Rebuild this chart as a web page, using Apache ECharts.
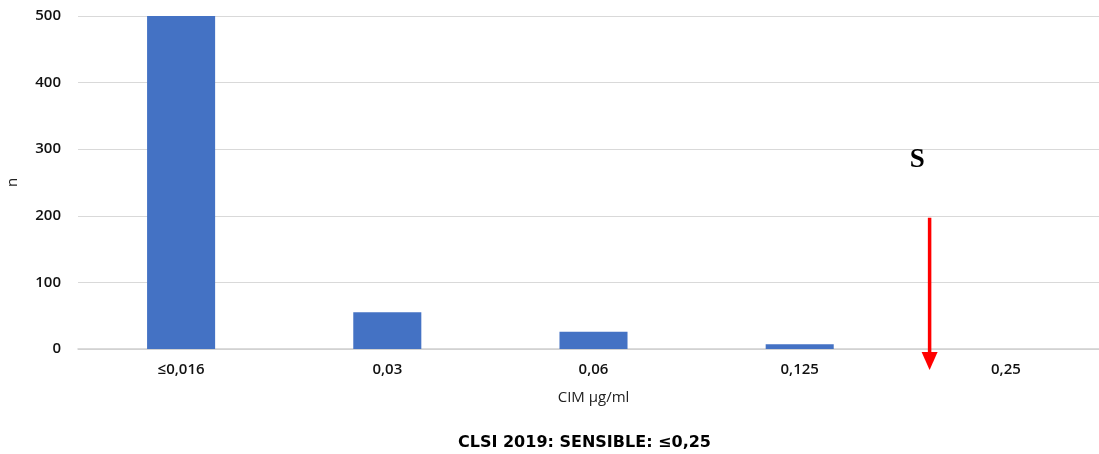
<!DOCTYPE html>
<html>
<head>
<meta charset="utf-8">
<script src="https://cdn.jsdelivr.net/npm/echarts@6/dist/echarts.min.js"></script>
<style>html,body{margin:0;padding:0;background:#fff}#c{width:1099px;height:454px}</style>
</head>
<body>
<div id="c"></div>
<script>
var categories = ['≤0,016', '0,03', '0,06', '0,125', '0,25'];
var counts = [500, 55, 26, 7, 0];
var yTicks = [0, 100, 200, 300, 400, 500];
var arrowX = 3.63;          // position between 0,125 and 0,25 (category units)
var arrowFrom = 197, arrowHead = -18;
var sLabelPos = [3.57, 284];
var titleText = 'CLSI 2019: SENSIBLE: ≤0,25';

var chart = echarts.init(document.getElementById('c'));
var font = '"Open Sans", "Liberation Sans", sans-serif';
chart.setOption({
  animation: false,
  title: {
    text: titleText, left: 453, top: 430,
    textStyle: { fontFamily: '"DejaVu Sans", sans-serif', fontSize: 16, fontWeight: 'bold', color: '#000' }
  },
  grid: { left: 78, right: -10, top: 16, bottom: 105, outerBoundsMode: 'none', containLabel: false },
  xAxis: [{
    type: 'category', data: categories,
    name: 'CIM µg/ml', nameLocation: 'middle', nameGap: 41,
    nameTextStyle: { fontFamily: font, fontSize: 15, color: '#222' },
    axisLine: { lineStyle: { color: '#d0d0d0', width: 1.5 } },
    axisTick: { show: false },
    axisLabel: { fontFamily: font, fontSize: 15, fontWeight: 600, color: '#111', margin: 13 }
  }, {
    type: 'value', min: -0.5, max: 4.5, show: false
  }],
  yAxis: {
    type: 'value', min: yTicks[0], max: yTicks[yTicks.length - 1], interval: 100,
    name: 'n', nameLocation: 'middle', nameGap: 58,
    nameTextStyle: { fontFamily: font, fontSize: 15, color: '#222' },
    axisLine: { show: false }, axisTick: { show: false },
    axisLabel: { fontFamily: font, fontSize: 15, fontWeight: 600, color: '#111', margin: 17 },
    splitLine: { lineStyle: { color: '#d9d9d9', width: 1 } }
  },
  series: [{
    type: 'bar', data: counts, barWidth: '33%',
    itemStyle: { color: '#4472C4', borderWidth: 0 }
  }, {
    type: 'line', xAxisIndex: 1, clip: false, silent: true,
    lineStyle: { color: '#ff0000', width: 3.5 },
    itemStyle: { color: '#ff0000' },
    data: [
      { value: [arrowX, arrowFrom], symbol: 'none' },
      { value: [arrowX, arrowHead], symbol: 'triangle', symbolRotate: 180, symbolSize: [16, 18] }
    ],
    markPoint: {
      silent: true, symbol: 'circle', symbolSize: 0,
      label: {
        show: true, formatter: 'S', position: 'inside',
        fontFamily: '"Liberation Serif", "DejaVu Serif", serif',
        fontSize: 27, fontWeight: 'bold', color: '#000'
      },
      data: [{ coord: sLabelPos }]
    }
  }]
});
</script>
</body>
</html>
